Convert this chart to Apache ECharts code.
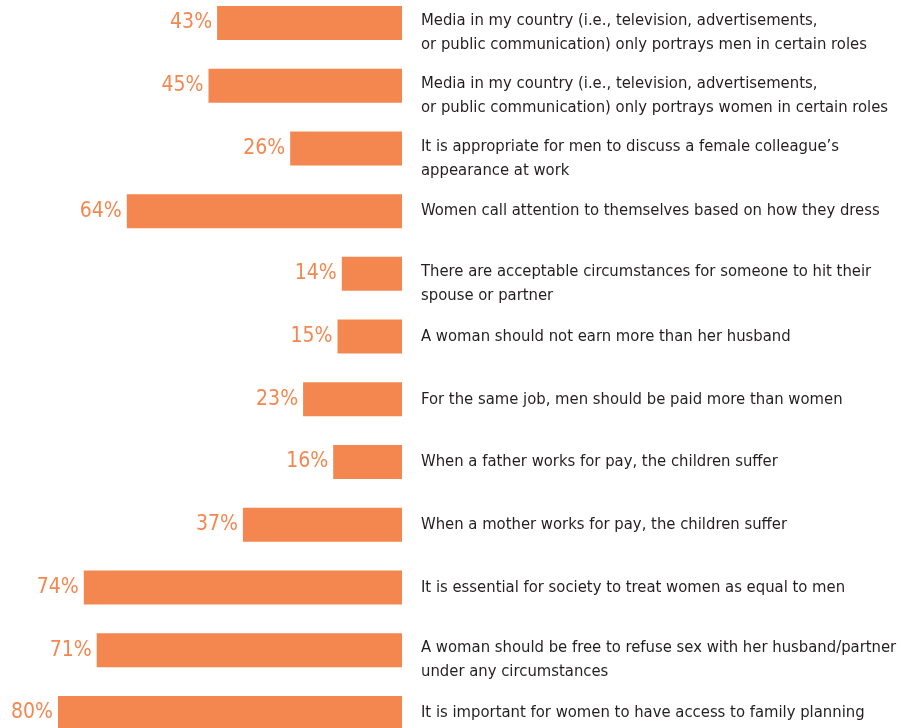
<!DOCTYPE html>
<html><head><meta charset="utf-8">
<script src="https://cdn.jsdelivr.net/npm/echarts@6/dist/echarts.min.js"></script>
<style>html,body{margin:0;padding:0;background:#fff}#c{width:901px;height:728px}</style>
</head><body><div id="c"></div>
<script>
const categories = [
  "Media in my country (i.e., television, advertisements,\nor public communication) only portrays men in certain roles",
  "Media in my country (i.e., television, advertisements,\nor public communication) only portrays women in certain roles",
  "It is appropriate for men to discuss a female colleague’s\nappearance at work",
  "Women call attention to themselves based on how they dress",
  "There are acceptable circumstances for someone to hit their\nspouse or partner",
  "A woman should not earn more than her husband",
  "For the same job, men should be paid more than women",
  "When a father works for pay, the children suffer",
  "When a mother works for pay, the children suffer",
  "It is essential for society to treat women as equal to men",
  "A woman should be free to refuse sex with her husband/partner\nunder any circumstances",
  "It is important for women to have access to family planning"
];
const values = [43, 45, 26, 64, 14, 15, 23, 16, 37, 74, 71, 80];

const orange = '#F3874F';
const condensed = '"Liberation Sans Narrow", "DejaVu Sans Condensed", sans-serif';
const chart = echarts.init(document.getElementById('c'), null, {renderer: 'canvas'});
chart.setOption({
  animation: false,
  grid: {left: 2, top: -8.4, width: 400, height: 752.7, containLabel: false, outerBoundsMode: 'none'},
  xAxis: {type: 'value', inverse: true, min: 0, max: 93.02, show: false},
  yAxis: {
    type: 'category', data: categories, inverse: true, position: 'right',
    axisLine: {show: false}, axisTick: {show: false}, splitLine: {show: false},
    axisLabel: {
      interval: 0, hideOverlap: false,
      margin: 19, align: 'left', verticalAlign: 'middle',
      color: '#231F20', fontFamily: condensed, fontSize: 16.5, lineHeight: 24,
      formatter: v => v.indexOf('\n') >= 0 ? '{s| }\n' + v : v,
      rich: {s: {lineHeight: 20, fontSize: 10}}
    }
  },
  series: [{
    type: 'bar', data: values, barWidth: 34,
    itemStyle: {color: orange},
    label: {
      show: true, position: 'left', distance: 5,
      formatter: p => p.value + '%',
      color: orange, fontFamily: condensed, fontSize: 21
    }
  }]
});
</script></body></html>
